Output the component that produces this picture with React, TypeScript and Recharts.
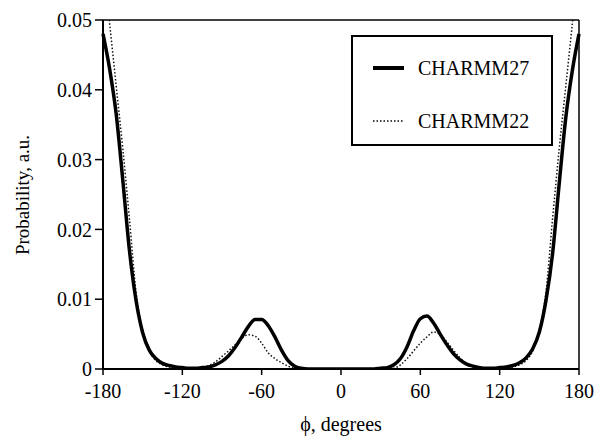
import React from 'react';
import { LineChart, Line, XAxis, YAxis, ReferenceLine, Legend, Label } from 'recharts';

// dihedral angle phi (degrees)
const phi = [
  -180, -175, -170, -165, -160, -155, -150, -145, -140, -135, -130, -125, -120,
  -115, -110, -105, -100, -95, -90, -85, -80, -75, -70, -65, -60,
  -55, -50, -45, -40, -35, -30, -25, -20, -15, -10, -5, 0,
  5, 10, 15, 20, 25, 30, 35, 40, 45, 50, 55, 60,
  65, 70, 75, 80, 85, 90, 95, 100, 105, 110, 115, 120,
  125, 130, 135, 140, 145, 150, 155, 160, 165, 170, 175, 180,
];

const charmm27 = [
  0.048, 0.043, 0.0365, 0.027, 0.017, 0.0098, 0.0052, 0.0027, 0.0015, 0.0008, 0.0005, 0.0003, 0.0002,
  0.0001, 0.0001, 0.0002, 0.0003, 0.0006, 0.0011, 0.0019, 0.0031, 0.0046, 0.0061, 0.0071, 0.0071,
  0.0062, 0.0046, 0.0027, 0.0012, 0.0004, 0.0001, 0, 0, 0, 0, 0, 0,
  0, 0, 0, 0, 0, 0.0001, 0.0002, 0.0006, 0.0015, 0.0032, 0.0055, 0.0072,
  0.0076, 0.0066, 0.005, 0.0035, 0.0022, 0.0013, 0.0007, 0.0004, 0.0002, 0.0001, 0.0001, 0.0002,
  0.0003, 0.0005, 0.0009, 0.0016, 0.0029, 0.0053, 0.0098, 0.0165, 0.0265, 0.036, 0.0428, 0.048,
];

const charmm22 = [
  0.058, 0.0495, 0.0405, 0.0315, 0.0215, 0.011, 0.0055, 0.0026, 0.0012, 0.0006, 0.0003, 0.0002, 0.0001,
  0.0001, 0.0001, 0.0002, 0.0005, 0.001, 0.0018, 0.0026, 0.0035, 0.0044, 0.0049, 0.0047, 0.0037,
  0.0023, 0.0015, 0.0009, 0.0004, 0.0001, 0, 0, 0, 0, 0, 0, 0,
  0, 0, 0, 0, 0, 0, 0, 0.0001, 0.0006, 0.0015, 0.0026, 0.0037,
  0.0046, 0.0053, 0.0049, 0.0039, 0.0027, 0.0016, 0.0008, 0.0004, 0.0002, 0.0001, 0.0001, 0.0001,
  0.0002, 0.0003, 0.0006, 0.0012, 0.0026, 0.0055, 0.011, 0.0215, 0.0315, 0.0405, 0.0495, 0.058,
];

const xTicks = [-180, -120, -60, 0, 60, 120, 180];
const yTicks = [0, 0.01, 0.02, 0.03, 0.04, 0.05];

const data = phi.map((p, i) => ({ phi: p, c27: charmm27[i], c22: charmm22[i] }));

const FONT = 'Liberation Serif, Times New Roman, Times, DejaVu Serif, serif';

const renderLegend = () => (
  <div
    style={{
      width: 202,
      height: 111,
      border: '2px solid #000',
      boxSizing: 'border-box',
      background: '#fff',
      position: 'relative',
      fontFamily: FONT,
      fontSize: 20,
      color: '#000',
    }}
  >
    <svg width={60} height={111} style={{ position: 'absolute', left: 0, top: 0 }}>
      <line x1={20} x2={51} y1={31} y2={31} stroke="#000" strokeWidth={4} />
      <line x1={20} x2={51} y1={84} y2={84} stroke="#000" strokeWidth={1.5} strokeDasharray="1.5 2" />
    </svg>
    <div style={{ position: 'absolute', left: 65, top: 19, lineHeight: '24px' }}>CHARMM27</div>
    <div style={{ position: 'absolute', left: 65, top: 72, lineHeight: '24px' }}>CHARMM22</div>
  </div>
);

const App: React.FC = () => {
  return (
    <div style={{ position: 'absolute', left: 0, top: 0, width: 600, height: 438, background: '#fff', fontFamily: FONT }}>
      <LineChart width={600} height={438} data={data} margin={{ top: 20, right: 21, bottom: 0, left: 0 }}>
        <XAxis
          dataKey="phi"
          type="number"
          domain={[-180, 180]}
          ticks={xTicks}
          height={69}
          stroke="#000"
          axisLine={{ stroke: '#000', strokeWidth: 2 }}
          tickLine={{ stroke: '#000', strokeWidth: 1.5 }}
          tickSize={6}
          tickMargin={9}
          tick={{ fill: '#000', fontSize: 20, fontFamily: FONT }}
        >
          <Label
            content={() => (
              <text x={341} y={431} textAnchor="middle" fontSize={20} fontFamily={FONT} fill="#000">
                ϕ, degrees
              </text>
            )}
          />
        </XAxis>
        <YAxis
          type="number"
          domain={[0, 0.05]}
          ticks={yTicks}
          allowDataOverflow
          width={103}
          stroke="#000"
          axisLine={{ stroke: '#000', strokeWidth: 2 }}
          tickLine={{ stroke: '#000', strokeWidth: 1.5 }}
          tickSize={8}
          tickMargin={3}
          tickFormatter={(v: number) => (v === 0 ? '0' : v.toFixed(2))}
          tick={{ fill: '#000', fontSize: 20, fontFamily: FONT }}
        >
          <Label
            content={() => (
              <text
                x={22}
                y={195}
                transform="rotate(-90 22 195)"
                textAnchor="middle"
                dominantBaseline="central"
                fontSize={19}
                fontFamily={FONT}
                fill="#000"
              >
                Probability, a.u.
              </text>
            )}
          />
        </YAxis>
        <ReferenceLine y={0.05} stroke="#000" strokeWidth={1.5} />
        <ReferenceLine x={180} stroke="#000" strokeWidth={1.5} />
        <Legend
          layout="vertical"
          align="center"
          verticalAlign="middle"
          wrapperStyle={{ left: 351, top: 35, width: 202, height: 111 }}
          content={renderLegend}
        />
        <Line
          type="monotone"
          dataKey="c22"
          stroke="#111"
          strokeWidth={1.5}
          strokeDasharray="1.5 2"
          dot={false}
          isAnimationActive={false}
        />
        <Line
          type="monotone"
          dataKey="c27"
          stroke="#000"
          strokeWidth={3.5}
          dot={false}
          isAnimationActive={false}
        />
      </LineChart>
    </div>
  );
};

export default App;
